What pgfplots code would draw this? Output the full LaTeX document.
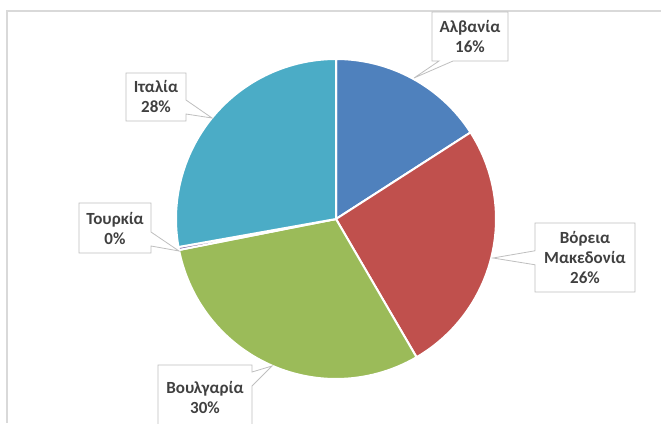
\documentclass[border=0pt]{standalone}
\usepackage{fontspec}
\setmainfont{Carlito}
\usepackage{pgfplots}
\pgfplotsset{compat=1.18}
\usetikzlibrary{shapes.callouts}

\definecolor{cAlb}{HTML}{4F81BD}
\definecolor{cMak}{HTML}{C0504D}
\definecolor{cBul}{HTML}{9BBB59}
\definecolor{cTur}{HTML}{8064A2}
\definecolor{cIta}{HTML}{4BACC6}
\definecolor{cFrame}{HTML}{D9D9D9}
\definecolor{cText}{HTML}{404040}
\definecolor{cBox}{HTML}{BFBFBF}

\tikzset{lbl/.style={rectangle callout, draw=cBox, fill=white, line width=0.8pt,
    text=cText, align=center, inner sep=0pt,
    font=\bfseries\fontsize{17}{20}\selectfont,
    callout pointer width=14pt}}

\begin{document}
\begin{tikzpicture}
\begin{axis}[
    at={(0,0)}, anchor=south west,
    scale only axis,
    width=661pt, height=423pt,
    xmin=0, xmax=661, ymin=0, ymax=423,
    y dir=reverse,
    hide axis,
]
% chart frame (cropped at right and bottom)
\draw[cFrame, line width=1.5pt] (axis cs:661,11) -- (axis cs:7,11) -- (axis cs:7,423);

% pie slices, clockwise from the top, shares in percent
\gdef\pieCum{0}
\foreach \v/\c in {15.9/cAlb, 25.7/cMak, 30.3/cBul, 0.3/cTur, 27.8/cIta}{
    \pgfmathsetmacro\a{90-3.6*\pieCum}
    \pgfmathsetmacro\b{90-3.6*(\pieCum+\v)}
    \edef\temp{\noexpand\filldraw[fill=\c, draw=white, line width=2pt, line join=round]
        (axis cs:336,219) -- ++(\a:160pt) arc[start angle=\a, end angle=\b, radius=160pt] -- cycle;}
    \temp
    \pgfmathsetmacro\newcum{\pieCum+\v}
    \global\let\pieCum\newcum
}

% data labels
\node[lbl, minimum width=76pt, minimum height=49pt, callout absolute pointer={(axis cs:414,78)}]
    at (axis cs:470,36.5) {Αλβανία\\16\%};
\node[lbl, minimum width=100pt, minimum height=69pt, callout absolute pointer={(axis cs:493,258)}]
    at (axis cs:585,257.5) {Βόρεια\\Μακεδονία\\26\%};
\node[lbl, minimum width=94pt, minimum height=64pt, callout absolute pointer={(axis cs:272,366)}]
    at (axis cs:205,397) {Βουλγαρία\\30\%};
\node[lbl, minimum width=72pt, minimum height=50pt, callout absolute pointer={(axis cs:179,251)}]
    at (axis cs:115,228) {Τουρκία\\0\%};
\node[lbl, minimum width=60pt, minimum height=48pt, callout absolute pointer={(axis cs:212,118)}]
    at (axis cs:156,97) {Ιταλία\\28\%};
\end{axis}
\pgfresetboundingbox
\path[use as bounding box] (0,0) rectangle (661pt,423pt);
\end{tikzpicture}
\end{document}
